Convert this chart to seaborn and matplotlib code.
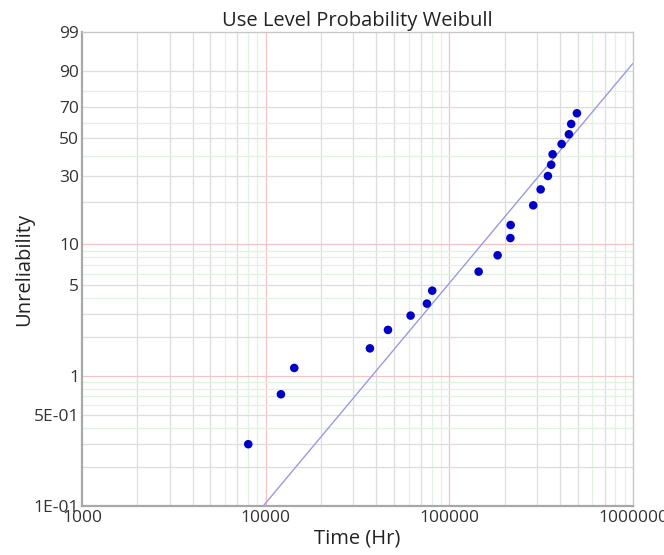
import numpy as np
import pandas as pd
import matplotlib
matplotlib.use("Agg")
import matplotlib.pyplot as plt
import seaborn as sns

# ---- data ----
time_hr = [8040, 12110, 14310, 36960, 46330, 61530, 75500, 80700, 144400,
           183200, 215000, 215700, 286200, 314100, 344100, 358600, 365000,
           408600, 447700, 460800, 495000]
unreliability_pct = [0.30, 0.728, 1.16, 1.64, 2.27, 2.92, 3.6, 4.51, 6.27,
                     8.3, 11.1, 13.8, 19.0, 24.4, 29.9, 35.2, 40.7,
                     46.6, 52.6, 59.2, 66.2]
fit_time = [9700, 1000000]
fit_pct = [0.1, 92.85]

ytick_vals = [0.1, 0.5, 1, 5, 10, 30, 50, 70, 90, 99]
ytick_labels = ["1E-01", "5E-01", "1", "5", "10", "30", "50", "70", "90", "99"]
xtick_vals = [1000, 10000, 100000, 1000000]
xtick_labels = ["1000", "10000", "100000", "1000000"]


def fwd(p):
    p = np.clip(np.asarray(p, dtype=float), 1e-6, 99.9999)
    return np.log(-np.log(1 - p / 100.0))


def inv(w):
    w = np.asarray(w, dtype=float)
    return 100.0 * (1 - np.exp(-np.exp(w)))


sns.set_theme(style="white")
plt.rcParams['font.family'] = ['Open Sans', 'DejaVu Sans']

fig = plt.figure(figsize=(6.64, 5.55), dpi=100)
ax = fig.add_axes([82 / 664, 1 - 506 / 555, (633 - 82) / 664, (506 - 32) / 555])
ax.set_xscale("log")
ax.set_yscale("function", functions=(fwd, inv))
ax.set_xlim(1000, 1000000)
ax.set_ylim(0.1, 99)

grey = "#dddddd"
green = "#e2f2e2"
red = "#f4c4c4"

# vertical grid
for dec in [1000, 10000, 100000]:
    for m in range(2, 10):
        c = green if m in (6, 8, 9) else grey
        ax.axvline(dec * m, color=c, lw=0.9, zorder=0)
for dec in [10000, 100000]:
    ax.axvline(dec, color=red, lw=0.9, zorder=0)

# horizontal grid
for dec in [0.1, 1]:
    for m in range(2, 10):
        c = grey if m in (2, 3, 5) else green
        ax.axhline(dec * m, color=c, lw=0.9, zorder=0)
for v in [20, 30, 40, 50, 60, 70, 80, 90]:
    c = grey if v in (20, 30, 50, 70, 90) else green
    ax.axhline(v, color=c, lw=0.9, zorder=0)
for v in [1, 10]:
    ax.axhline(v, color=red, lw=0.9, zorder=0)

df = pd.DataFrame({"Time (Hr)": time_hr, "Unreliability": unreliability_pct})
fit_df = pd.DataFrame({"t": fit_time, "p": fit_pct})

sns.lineplot(data=fit_df, x="t", y="p", ax=ax, color="#9a9ae0", lw=1.0, zorder=2)
sns.scatterplot(data=df, x="Time (Hr)", y="Unreliability", ax=ax,
                color="#0000c8", s=38, edgecolor="none", zorder=3)

ax.set_xticks(xtick_vals)
ax.set_xticklabels(xtick_labels)
ax.xaxis.set_minor_locator(matplotlib.ticker.NullLocator())
ax.set_yticks(ytick_vals)
ax.set_yticklabels(ytick_labels)
ax.yaxis.set_minor_locator(matplotlib.ticker.NullLocator())
ax.tick_params(axis="both", labelsize=12.5, labelcolor="#333333", length=0, pad=3)
ax.tick_params(axis="y", pad=2)

for side in ["left", "bottom"]:
    ax.spines[side].set_color("#a8a8a8")
    ax.spines[side].set_linewidth(1.6)
for side in ["top", "right"]:
    ax.spines[side].set_color("#c8c8c8")
    ax.spines[side].set_linewidth(1.0)

ax.set_title("Use Level Probability Weibull", fontsize=14.5, color="#222222", pad=4)
ax.set_xlabel("Time (Hr)", fontsize=14.5, color="#222222", labelpad=2)
ax.set_ylabel("Unreliability", fontsize=14.5, color="#222222", labelpad=0)

fig.savefig("out.png", dpi=100)
